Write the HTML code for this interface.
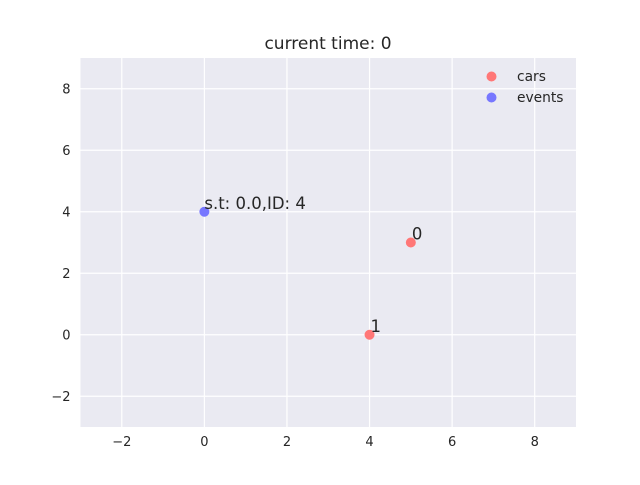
<!DOCTYPE html>
<html><head><meta charset="utf-8"><style>
body{margin:0;background:#fff;width:640px;height:480px;overflow:hidden}
text{font-family:"DejaVu Sans","Liberation Sans",sans-serif}
</style></head><body>
<svg id="chart" width="640" height="480">
<rect x="0" y="0" width="640" height="480" fill="#fff"/>
<rect x="80.5" y="58" width="495.5" height="369" fill="#eaeaf2"/>
<g id="grid"></g><g id="ticks"></g><g id="marks"></g>
<text x="328" y="49" text-anchor="middle" font-size="17" fill="#262626">current time: 0</text>
<g>
<circle cx="491.5" cy="76.5" r="5" fill="#f77"/>
<text x="517" y="81" font-size="13.8" fill="#262626">cars</text>
<circle cx="491.5" cy="97.5" r="5" fill="#77f"/>
<text x="517" y="102" font-size="13.8" fill="#262626">events</text>
</g>
</svg>
<script>
const xTicks=[-2,0,2,4,6,8];
const yTicks=[-2,0,2,4,6,8];
const carX=[5,4];
const carY=[3,0];
const carLabels=["0","1"];
const eventX=[0];
const eventY=[4];
const eventLabels=["s.t: 0.0,ID: 4"];
const L=80.5,R=576,T=58,B=427,xmin=-3,xmax=9,ymin=-3,ymax=9;
const sx=v=>L+(v-xmin)/(xmax-xmin)*(R-L);
const sy=v=>B-(v-ymin)/(ymax-ymin)*(B-T);
const NS="http://www.w3.org/2000/svg";
function mk(tag,attrs,parent){const e=document.createElementNS(NS,tag);for(const k in attrs)e.setAttribute(k,attrs[k]);document.getElementById(parent).appendChild(e);return e;}
xTicks.forEach(v=>{
 const g=mk('line',{x1:sx(v),x2:sx(v),y1:T,y2:B,stroke:'#fff','stroke-width':1.2},'grid');
 
 
 const t=mk('text',{x:sx(v),y:B+19,'text-anchor':'middle','font-size':13,fill:'#262626'},'ticks');
 t.textContent=(v<0?'\u2212'+(-v):v);
 
 
});
yTicks.forEach(v=>{
 const g=mk('line',{x1:L,x2:R,y1:sy(v),y2:sy(v),stroke:'#fff','stroke-width':1.2},'grid');
 
 
 const t=mk('text',{x:L-10,y:sy(v)+4.5,'text-anchor':'end','font-size':13,fill:'#262626'},'ticks');
 t.textContent=(v<0?'\u2212'+(-v):v);
 
 
});
carX.forEach((x,i)=>{
 const c=mk('circle',{cx:sx(x),cy:sy(carY[i]),r:5,fill:'#f77'},'marks');
 
 
 const t=mk('text',{x:sx(x)+1,y:sy(carY[i])-3,'font-size':16.5,fill:'#262626'},'marks');
 t.textContent=carLabels[i];
 
 
});
eventX.forEach((x,i)=>{
 const c=mk('circle',{cx:sx(x),cy:sy(eventY[i]),r:5,fill:'#77f'},'marks');
 
 
 const t=mk('text',{x:sx(x),y:sy(eventY[i])-3,'font-size':16.5,fill:'#262626'},'marks');
 t.textContent=eventLabels[i];
 
 
});
</script>
</body></html>
